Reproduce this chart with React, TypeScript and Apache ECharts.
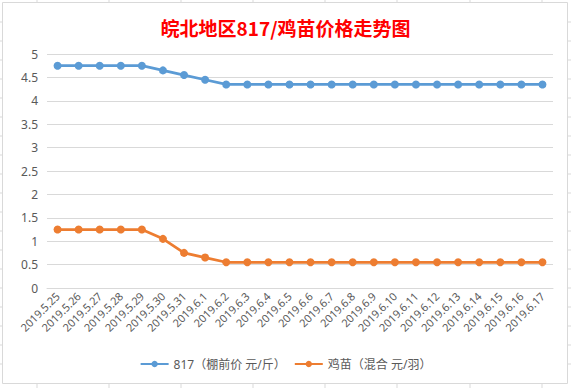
import React, { useEffect, useRef } from "react";
import * as echarts from "echarts";

const categories = [
  "2019.5.25", "2019.5.26", "2019.5.27", "2019.5.28", "2019.5.29", "2019.5.30", "2019.5.31",
  "2019.6.1", "2019.6.2", "2019.6.3", "2019.6.4", "2019.6.5", "2019.6.6", "2019.6.7",
  "2019.6.8", "2019.6.9", "2019.6.10", "2019.6.11", "2019.6.12", "2019.6.13", "2019.6.14",
  "2019.6.15", "2019.6.16", "2019.6.17",
];
const series817 = [
  4.75, 4.75, 4.75, 4.75, 4.75, 4.65, 4.55, 4.45, 4.35, 4.35, 4.35, 4.35, 4.35, 4.35,
  4.35, 4.35, 4.35, 4.35, 4.35, 4.35, 4.35, 4.35, 4.35, 4.35,
];
const seriesChick = [
  1.25, 1.25, 1.25, 1.25, 1.25, 1.05, 0.75, 0.65, 0.55, 0.55, 0.55, 0.55, 0.55, 0.55,
  0.55, 0.55, 0.55, 0.55, 0.55, 0.55, 0.55, 0.55, 0.55, 0.55,
];
const seriesNames = ["817（棚前价 元/斤）", "鸡苗（混合 元/羽）"];
const titleText = "皖北地区817/鸡苗价格走势图";

const W = 571;
const H = 388;
const font = "'Noto Sans', 'Noto Sans CJK SC', sans-serif";

export default function App() {
  const ref = useRef<HTMLDivElement>(null);
  useEffect(() => {
    document.body.style.margin = "0";
    const chart = echarts.init(ref.current!, null, { renderer: "svg" });
    const stubColor = "#d9d9d9";
    const stubs: any[] = [];
    [37, 109, 181, 253, 325, 397, 470, 542].forEach((x) => {
      stubs.push({ type: "line", shape: { x1: x, y1: 0, x2: x, y2: 2.5 }, style: { stroke: stubColor, lineWidth: 1 } });
      stubs.push({ type: "line", shape: { x1: x, y1: 383.5, x2: x, y2: H }, style: { stroke: stubColor, lineWidth: 1 } });
    });
    [22, 41, 60, 79, 98, 117, 136, 155, 174, 193, 212, 231, 250, 269, 288, 307, 326, 345, 364].forEach((y) => {
      stubs.push({ type: "line", shape: { x1: 0, y1: y, x2: 2.5, y2: y }, style: { stroke: stubColor, lineWidth: 1 } });
      stubs.push({ type: "line", shape: { x1: 567.5, y1: y, x2: W, y2: y }, style: { stroke: stubColor, lineWidth: 1 } });
    });
    chart.setOption({
      animation: false,
      backgroundColor: "#fff",
      graphic: [
        { type: "rect", shape: { x: 2.5, y: 2.5, width: 565, height: 381 }, style: { fill: "none", stroke: "#d9d9d9", lineWidth: 1 }, z: 10 },
        ...stubs,
      ],
      title: {
        text: titleText,
        left: "center",
        top: 13,
        textStyle: { color: "#ff0000", fontSize: 19, fontWeight: "bold", fontFamily: "'Noto Sans CJK SC', sans-serif" },
      },
      legend: {
        data: seriesNames,
        bottom: 13,
        left: "center",
        itemWidth: 28,
        itemHeight: 8,
        itemGap: 8,
        textStyle: { color: "#595959", fontSize: 12, fontFamily: font },
      },
      grid: { left: 47, right: 18, top: 54, bottom: 100, containLabel: false },
      xAxis: {
        type: "category",
        data: categories,
        boundaryGap: true,
        axisLine: { show: true, lineStyle: { color: "#d9d9d9" } },
        axisTick: { show: false },
        axisLabel: { interval: 0, rotate: 45, color: "#595959", fontSize: 11, fontFamily: font, margin: 6 },
      },
      yAxis: {
        type: "value",
        min: 0,
        max: 5,
        interval: 0.5,
        axisLine: { show: false },
        axisTick: { show: false },
        axisLabel: { color: "#595959", fontSize: 12, fontFamily: font, margin: 9 },
        splitLine: { lineStyle: { color: "#d9d9d9", width: 1 } },
      },
      series: [
        {
          name: seriesNames[0],
          type: "line",
          data: series817,
          symbol: "circle",
          symbolSize: 8,
          lineStyle: { color: "#5b9bd5", width: 2.75 },
          itemStyle: { color: "#5b9bd5" },
        },
        {
          name: seriesNames[1],
          type: "line",
          data: seriesChick,
          symbol: "circle",
          symbolSize: 8,
          lineStyle: { color: "#ed7d31", width: 2.75 },
          itemStyle: { color: "#ed7d31" },
        },
      ],
    });
    return () => chart.dispose();
  }, []);
  return <div ref={ref} style={{ width: W, height: H }} />;
}
